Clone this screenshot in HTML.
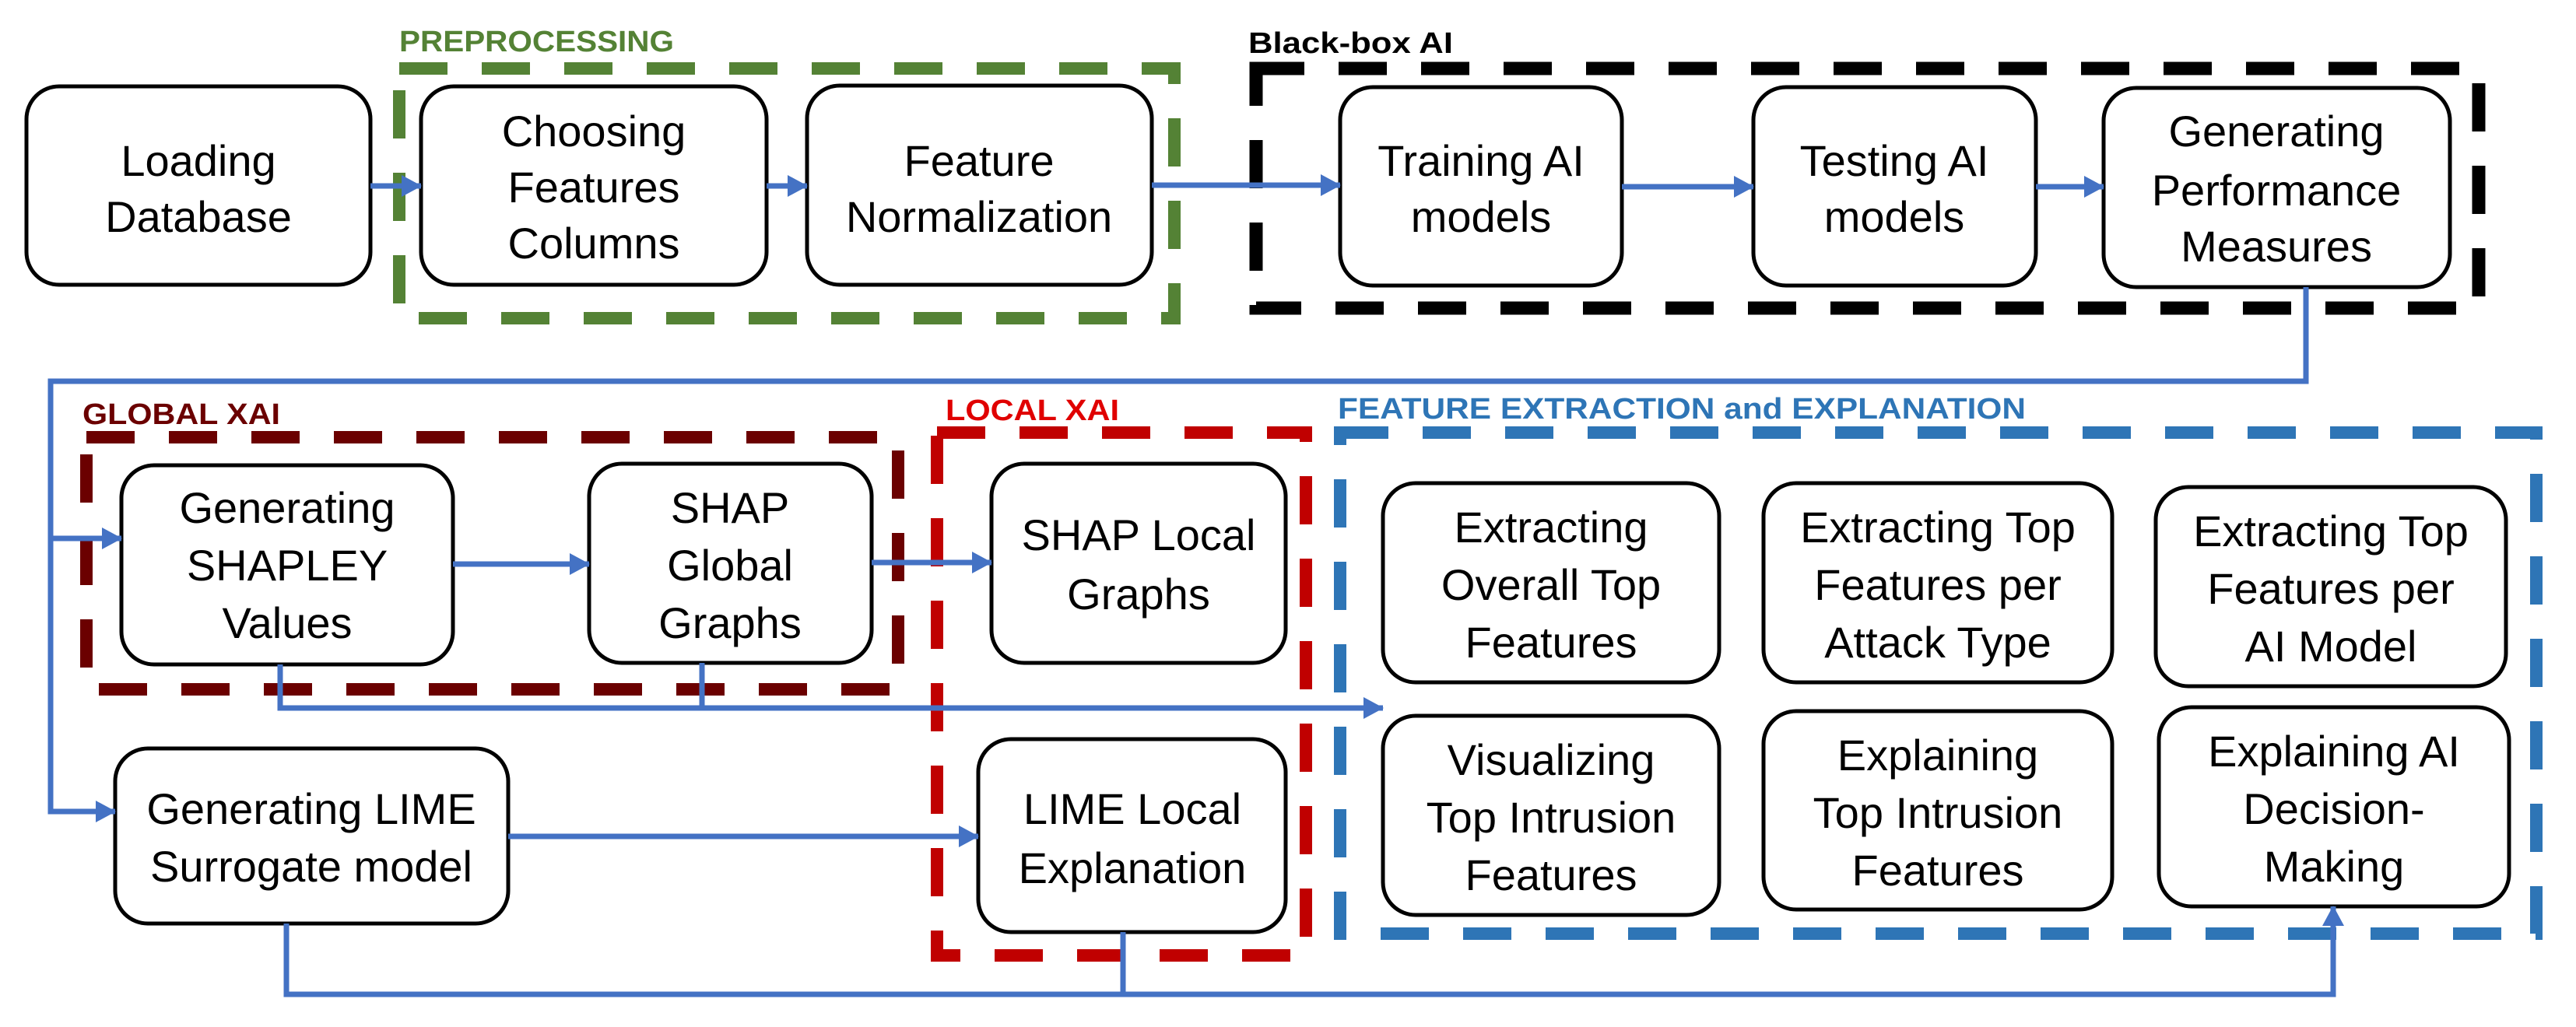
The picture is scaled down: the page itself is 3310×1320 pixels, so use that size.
<!DOCTYPE html>
<html><head><meta charset="utf-8"><style>
html,body{margin:0;padding:0;background:#fff;}
svg{display:block;}
.t{font-family:"Liberation Sans",sans-serif;font-size:56px;fill:#000;text-anchor:middle;}
.h{font-family:"Liberation Sans",sans-serif;font-weight:bold;font-size:38px;}
</style></head><body>
<svg width="3310" height="1320" viewBox="0 0 3310 1320" xmlns="http://www.w3.org/2000/svg">
<defs>
<marker id="a" markerUnits="userSpaceOnUse" markerWidth="26" markerHeight="28" refX="25" refY="14" orient="auto">
<path d="M0,0 L26,14 L0,28 Z" fill="#4472C4"/></marker>
</defs>
<g fill="none" stroke-width="16" stroke-dasharray="62 44">
<rect x="513" y="88" width="996" height="321" stroke="#548235"/>
<rect x="1614" y="88" width="1571" height="308" stroke="#000" stroke-width="17"/>
<rect x="111" y="562" width="1043" height="324" stroke="#6B0000"/>
<rect x="1204" y="556" width="474" height="672" stroke="#C00000"/>
<rect x="1722" y="556" width="1537" height="644" stroke="#2E75B6"/>
</g>
<text class="h" x="513" y="66" fill="#548235" textLength="353" lengthAdjust="spacingAndGlyphs">PREPROCESSING</text>
<text class="h" x="1604" y="68" fill="#000" textLength="263" lengthAdjust="spacingAndGlyphs">Black-box AI</text>
<text class="h" x="106" y="545" fill="#6B0000" textLength="254" lengthAdjust="spacingAndGlyphs">GLOBAL XAI</text>
<text class="h" x="1215" y="540" fill="#E00000" textLength="223" lengthAdjust="spacingAndGlyphs">LOCAL XAI</text>
<text class="h" x="1719" y="538" fill="#2E75B6" textLength="884" lengthAdjust="spacingAndGlyphs">FEATURE EXTRACTION and EXPLANATION</text>
<g fill="#fff" stroke="#000" stroke-width="5">
<rect x="34" y="111" width="442" height="255" rx="42"/>
<rect x="541" y="111" width="444" height="255" rx="42"/>
<rect x="1037" y="110" width="443" height="256" rx="42"/>
<rect x="1722" y="112" width="362" height="255" rx="42"/>
<rect x="2253" y="112" width="363" height="255" rx="42"/>
<rect x="2703" y="113" width="445" height="256" rx="42"/>
<rect x="156" y="598" width="426" height="256" rx="42"/>
<rect x="757" y="596" width="363" height="256" rx="42"/>
<rect x="1274" y="596" width="378" height="256" rx="42"/>
<rect x="148" y="962" width="505" height="225" rx="42"/>
<rect x="1257" y="950" width="395" height="248" rx="42"/>
<rect x="1777" y="621" width="432" height="256" rx="42"/>
<rect x="2266" y="621" width="448" height="256" rx="42"/>
<rect x="2770" y="626" width="450" height="256" rx="42"/>
<rect x="1777" y="920" width="432" height="256" rx="42"/>
<rect x="2266" y="914" width="448" height="255" rx="42"/>
<rect x="2774" y="909" width="450" height="256" rx="42"/>
</g>
<g fill="none" stroke="#4472C4" stroke-width="7">
<line x1="476" y1="239" x2="541" y2="239" marker-end="url(#a)"/>
<line x1="985" y1="239" x2="1037" y2="239" marker-end="url(#a)"/>
<line x1="1480" y1="238" x2="1722" y2="238" marker-end="url(#a)"/>
<line x1="2084" y1="240" x2="2253" y2="240" marker-end="url(#a)"/>
<line x1="2616" y1="240" x2="2703" y2="240" marker-end="url(#a)"/>
<polyline points="2963,369 2963,490 65,490 65,1043 148,1043" marker-end="url(#a)"/>
<line x1="65" y1="692" x2="156" y2="692" marker-end="url(#a)"/>
<line x1="582" y1="725" x2="757" y2="725" marker-end="url(#a)"/>
<line x1="1120" y1="723" x2="1274" y2="723" marker-end="url(#a)"/>
<polyline points="360,854 360,910 1777,910" marker-end="url(#a)"/>
<line x1="902" y1="852" x2="902" y2="910"/>
<line x1="653" y1="1075" x2="1257" y2="1075" marker-end="url(#a)"/>
<polyline points="368,1187 368,1278 2998,1278 2998,1165" marker-end="url(#a)"/>
<line x1="1443" y1="1198" x2="1443" y2="1278"/>
</g>
<g class="t">
<text x="255" y="226">Loading</text><text x="255" y="298">Database</text>
<text x="763" y="188">Choosing</text><text x="763" y="260">Features</text><text x="763" y="332">Columns</text>
<text x="1258" y="226">Feature</text><text x="1258" y="298">Normalization</text>
<text x="1903" y="226">Training AI</text><text x="1903" y="298">models</text>
<text x="2434" y="226">Testing AI</text><text x="2434" y="298">models</text>
<text x="2925" y="188">Generating</text><text x="2925" y="264">Performance</text><text x="2925" y="336">Measures</text>
<text x="369" y="672">Generating</text><text x="369" y="746">SHAPLEY</text><text x="369" y="820">Values</text>
<text x="938" y="672">SHAP</text><text x="938" y="746">Global</text><text x="938" y="820">Graphs</text>
<text x="1463" y="707">SHAP Local</text><text x="1463" y="783">Graphs</text>
<text x="400" y="1059">Generating LIME</text><text x="400" y="1133">Surrogate model</text>
<text x="1455" y="1059">LIME Local</text><text x="1455" y="1135">Explanation</text>
<text x="1993" y="697">Extracting</text><text x="1993" y="771">Overall Top</text><text x="1993" y="845">Features</text>
<text x="2490" y="697">Extracting Top</text><text x="2490" y="771">Features per</text><text x="2490" y="845">Attack Type</text>
<text x="2995" y="702">Extracting Top</text><text x="2995" y="776">Features per</text><text x="2995" y="850">AI Model</text>
<text x="1993" y="996">Visualizing</text><text x="1993" y="1070">Top Intrusion</text><text x="1993" y="1144">Features</text>
<text x="2490" y="990">Explaining</text><text x="2490" y="1064">Top Intrusion</text><text x="2490" y="1138">Features</text>
<text x="2999" y="985">Explaining AI</text><text x="2999" y="1059">Decision-</text><text x="2999" y="1133">Making</text>
</g>
</svg>
</body></html>
